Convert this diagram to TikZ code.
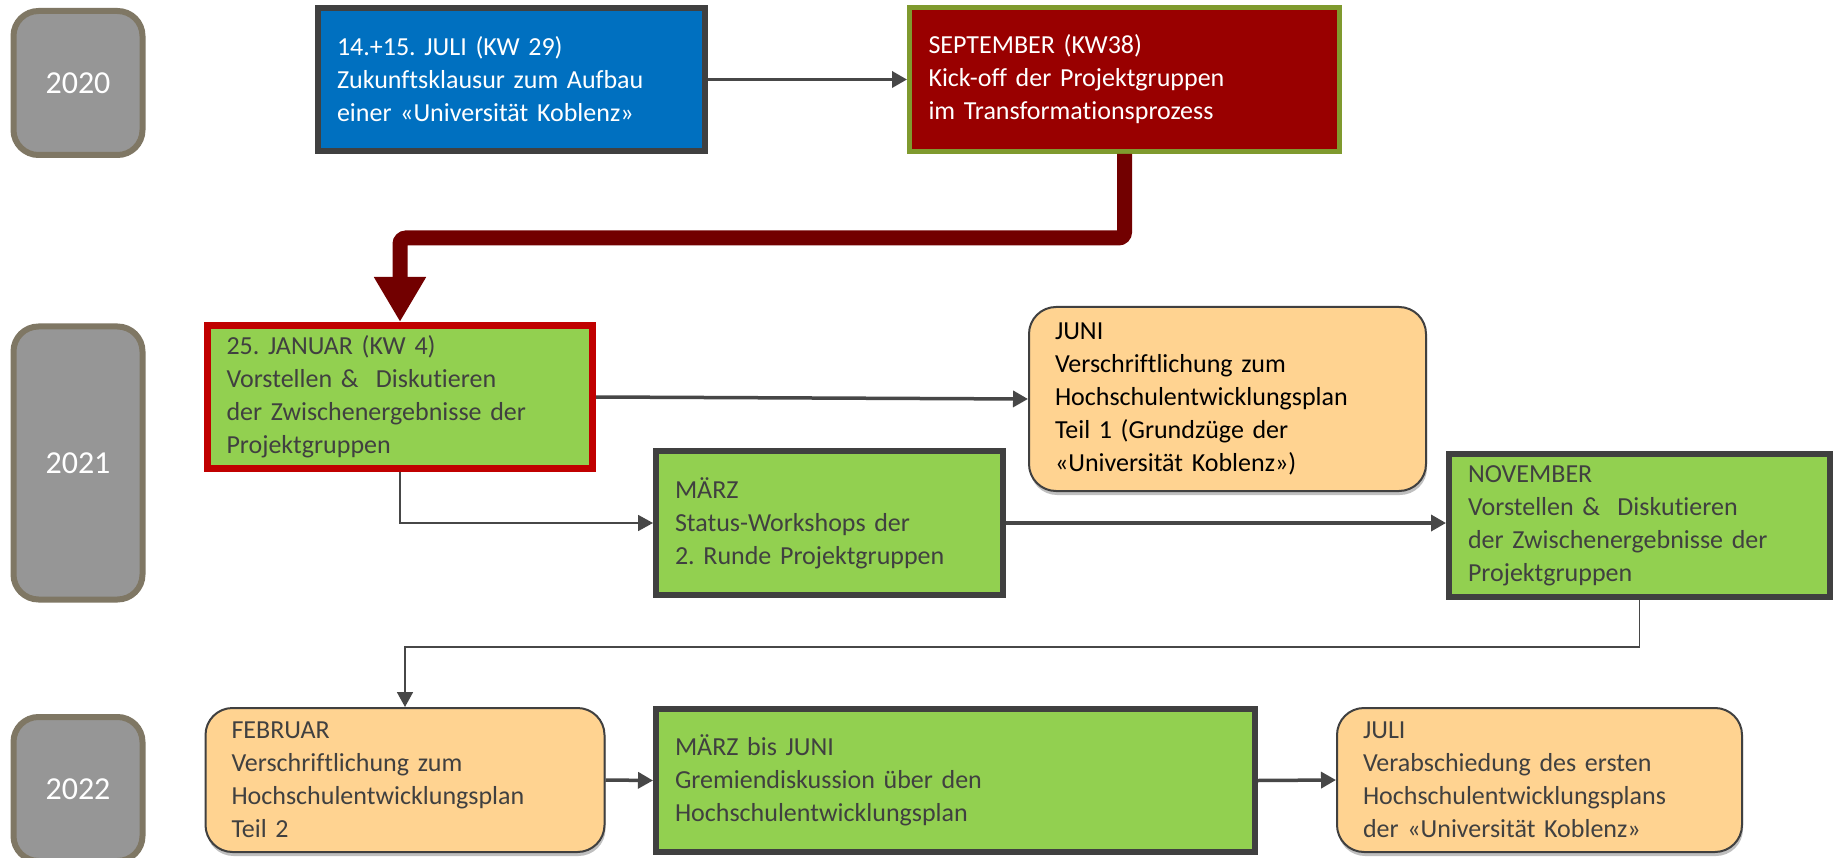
\documentclass[tikz,border=0pt]{standalone}
\usepackage{fontspec}
\setmainfont{Carlito}[Ligatures=NoCommon]
\frenchspacing
\usetikzlibrary{arrows.meta,shadows}
\definecolor{dgray}{HTML}{404040}
\definecolor{cgray}{HTML}{474747}
\definecolor{softorange}{HTML}{FFD391}
\definecolor{lgreen}{HTML}{92D050}
\definecolor{oblue}{HTML}{0070C0}
\definecolor{dred}{HTML}{990000}
\definecolor{olive}{HTML}{7F9A2E}
\definecolor{jred}{HTML}{C00000}
\definecolor{maroon}{HTML}{720000}
\definecolor{yfill}{HTML}{969696}
\definecolor{yborder}{HTML}{7F7764}
\tikzset{
  txt/.style={font=\frenchspacing\fontsize{26}{33}\selectfont, align=left, inner ysep=0pt, anchor=center},
  thickbox/.style={txt, rectangle, line width=6pt, draw=dgray, fill=lgreen, text=dgray, inner xsep=19pt},
  softbox/.style={txt, rectangle, rounded corners=27pt, line width=2pt, draw=dgray, fill=softorange, text=dgray, inner xsep=26pt,
    drop shadow={shadow xshift=1pt, shadow yshift=-4pt, opacity=0.25, fill=black}},
  yearbox/.style={rectangle, rounded corners=25pt, line width=6pt, draw=yborder, fill=yfill, text=white,
    font=\fontsize{32}{38}\selectfont, minimum width=129pt},
  conn/.style={draw=cgray, line width=3.5pt, -{Triangle[length=15pt,width=16pt]}},
  thinconn/.style={conn, line width=1.8pt},
  bigarrow/.style={draw=maroon, line width=15pt, rounded corners=6pt, -{Triangle[length=45pt,width=49pt]}},
}
\begin{document}
\begin{tikzpicture}[x=1pt,y=-1pt]
\path[use as bounding box, clip] (0,0) rectangle (1836,858);
\fill[white] (0,0) rectangle (1836,858);

% year boxes
\node[yearbox, minimum height=144pt] (y2020) at (78,83) {2020};
\node[yearbox, minimum height=273pt] (y2021) at (78,463) {2021};
\node[yearbox, minimum height=144pt] (y2022) at (78,789) {2022};

% 2020 row
\node[thickbox, fill=oblue, text=white, minimum width=387pt, minimum height=143pt, text width=349pt] (blue) at (511.5,79.5)
  {14.+15. JULI (KW 29)\\Zukunftsklausur zum Aufbau\\einer «Universität Koblenz»};
\node[thickbox, line width=5pt, draw=olive, fill=dred, text=white, minimum width=430pt, minimum height=144pt, text width=392pt] (sep) at (1124.5,79.5)
  {SEPTEMBER (KW38)\\Kick-off der Projektgruppen\\im Transformationsprozess};

% 2021 row
\node[thickbox, line width=7pt, draw=jred, minimum width=385pt, minimum height=143pt, text width=347pt] (jan) at (400,397)
  {25. JANUAR (KW 4)\\Vorstellen \& \ Diskutieren\\der Zwischenergebnisse der\\Projektgruppen};
\node[softbox, text=black, minimum width=397pt, minimum height=184pt, text width=345pt] (juni) at (1227.5,399)
  {JUNI\\Verschriftlichung zum\\Hochschulentwicklungsplan\\Teil 1 (Grundzüge der\\«Universität Koblenz»)};
\node[thickbox, minimum width=347pt, minimum height=144pt, text width=309pt] (maerz) at (829.5,523)
  {MÄRZ\\Status-Workshops der\\2. Runde Projektgruppen};
\node[thickbox, minimum width=381pt, minimum height=143pt, text width=343pt] (nov) at (1639.5,525.5)
  {NOVEMBER\\Vorstellen \& \ Diskutieren\\der Zwischenergebnisse der\\Projektgruppen};

% 2022 row
\node[softbox, minimum width=399pt, minimum height=144pt, text width=347pt] (feb) at (405,780)
  {FEBRUAR\\Verschriftlichung zum\\Hochschulentwicklungsplan\\Teil 2};
\node[thickbox, minimum width=599pt, minimum height=143pt, text width=561pt] (mj) at (955.5,780.5)
  {MÄRZ bis JUNI\\Gremiendiskussion über den\\Hochschulentwicklungsplan};
\node[softbox, minimum width=405pt, minimum height=144pt, text width=353pt] (juli) at (1539.5,780)
  {JULI\\Verabschiedung des ersten\\Hochschulentwicklungsplans\\der «Universität Koblenz»};

% connectors
\draw[conn] (blue.east) -- (sep.west);
\draw[bigarrow] (sep.south) -- ++(0,84) -| (jan.north);
\draw[conn] (jan.east) -- (juni.west);
\draw[thinconn] (jan.south) |- (maerz.west);
\draw[conn] (maerz.east) -- (maerz.east -| nov.west);
\draw[thinconn] (nov.south) -- ++(0,47) -| (feb.north);
\draw[conn] (feb.east) -- (mj.west);
\draw[conn] (mj.east) -- (juli.west);
\end{tikzpicture}
\end{document}
